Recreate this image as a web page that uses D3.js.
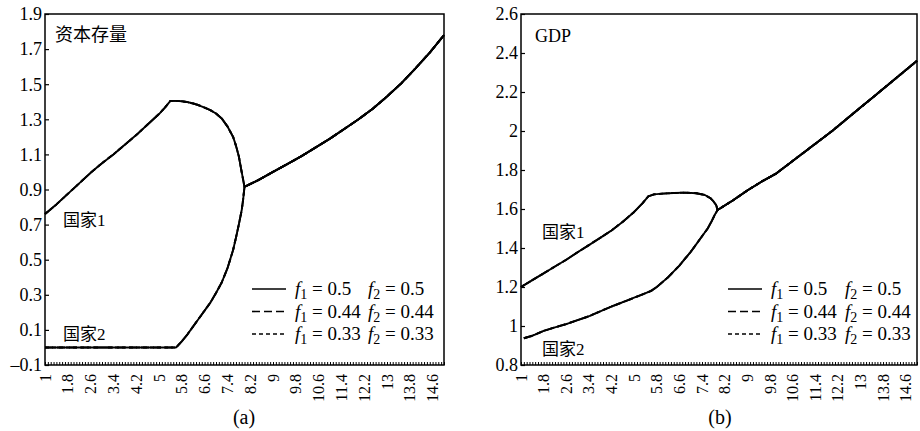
<!DOCTYPE html>
<html><head><meta charset="utf-8">
<script src="https://cdn.jsdelivr.net/npm/d3@7"></script>
<style>
body{margin:0;background:#fff;}
svg{display:block;}
text{font-family:"Liberation Serif","Times New Roman","Noto Sans CJK SC",serif;fill:#000;}
</style></head>
<body>
<svg id="chart" width="920" height="431"></svg>
<script>
// ---------- data ----------
const xTickLabels = ["1","1.8","2.6","3.4","4.2","5","5.8","6.6","7.4","8.2","9","9.8","10.6","11.4","12.2","13","13.8","14.6"];
const yTicksA = [-0.1,0.1,0.3,0.5,0.7,0.9,1.1,1.3,1.5,1.7,1.9];
const yTicksB = [0.8,1,1.2,1.4,1.6,1.8,2,2.2,2.4,2.6];
const legendF1 = ["0.5","0.44","0.33"];
const legendF2 = ["0.5","0.44","0.33"];
const panelTitles = ["资本存量","GDP"];
const countryNames = ["国家1","国家2"];
const captions = ["(a)","(b)"];

// (a) capital stock, country 1
const kT1 = [1,1.4,1.8,2.2,2.6,3.0,3.4,3.8,4.2,4.6,5.0,5.2,5.4,5.6,5.8,6.0,6.2,6.4,6.6,6.8,7.0,7.2,7.4,7.6,7.7,7.8,7.9,8.0,8.5,9,9.5,10,10.5,11,11.5,12,12.5,13,13.5,14,14.5,15];
const kV1 = [0.76,0.815,0.875,0.935,0.995,1.05,1.10,1.155,1.21,1.27,1.33,1.365,1.405,1.405,1.403,1.398,1.39,1.38,1.367,1.352,1.333,1.305,1.26,1.20,1.15,1.09,1.0,0.915,0.955,1.0,1.045,1.09,1.14,1.19,1.245,1.30,1.36,1.43,1.505,1.59,1.68,1.78];
// (a) capital stock, country 2
const kT2 = [1,5.6,5.8,6.0,6.2,6.4,6.6,6.8,7.0,7.2,7.4,7.6,7.7,7.8,7.9,7.95,8.0,8.5,9,9.5,10,10.5,11,11.5,12,12.5,13,13.5,14,14.5,15];
const kV2 = [0,0,0.035,0.075,0.12,0.165,0.21,0.255,0.31,0.37,0.45,0.555,0.625,0.70,0.78,0.84,0.915,0.955,1.0,1.045,1.09,1.14,1.19,1.245,1.30,1.36,1.43,1.505,1.59,1.68,1.78];
// (b) GDP, country 1
const gT1 = [1,1.4,1.8,2.2,2.6,3.0,3.4,3.8,4.2,4.6,5.0,5.3,5.5,5.7,6.0,6.4,6.8,7.2,7.5,7.7,7.8,7.9,7.95,8.5,9,9.5,10,10.5,11,11.5,12,12.5,13,13.5,14,14.5,15];
const gV1 = [1.2,1.235,1.27,1.305,1.34,1.378,1.415,1.452,1.49,1.535,1.585,1.63,1.665,1.675,1.679,1.682,1.684,1.681,1.672,1.655,1.64,1.62,1.595,1.645,1.695,1.74,1.78,1.835,1.89,1.945,2.0,2.06,2.12,2.18,2.24,2.30,2.36];
// (b) GDP, country 2
const gT2 = [1.1,1.4,1.8,2.2,2.6,3.0,3.4,3.8,4.2,4.6,5.0,5.3,5.6,5.8,6.0,6.2,6.4,6.6,6.8,7.0,7.2,7.4,7.6,7.75,7.85,7.95,8.5,9,9.5,10,10.5,11,11.5,12,12.5,13,13.5,14,14.5,15];
const gV2 = [0.937,0.95,0.975,0.993,1.01,1.03,1.05,1.075,1.10,1.122,1.145,1.162,1.18,1.20,1.225,1.25,1.28,1.31,1.345,1.38,1.42,1.46,1.50,1.54,1.57,1.595,1.645,1.695,1.74,1.78,1.835,1.89,1.945,2.0,2.06,2.12,2.18,2.24,2.30,2.36];

// ---------- drawing ----------
const svg = d3.select("#chart");
const dashes = [null,"8,4","4,3"];
const fmt = d => String(+d.toFixed(1)).replace("-","\u2013");

const panels = [
  {x0:45,x1:444,yDom:[-0.1,1.9],yTicks:yTicksA,series:[[kT1,kV1],[kT2,kV2]],
   title:{x:55,y:41}, names:[{x:63,y:226},{x:63,y:340}], legend:{x:252,y:289,tx:295,tx2:368}, cap:244},
  {x0:521,x1:917,yDom:[0.8,2.6],yTicks:yTicksB,series:[[gT1,gV1],[gT2,gV2]],
   title:{x:535,y:42}, names:[{x:542,y:238},{x:542,y:355}], legend:{x:728,y:289,tx:771,tx2:845}, cap:720}
];
const yTop=14, yBot=365;

panels.forEach((p,pi)=>{
  const x = d3.scaleLinear().domain([1,15]).range([p.x0,p.x1]);
  const y = d3.scaleLinear().domain(p.yDom).range([yBot,yTop]);
  const g = svg.append("g");

  // y axis (inward ticks)
  const ya = g.append("g").attr("transform",`translate(${p.x0},0)`)
    .call(d3.axisRight(y).tickValues(p.yTicks).tickSize(4).tickFormat(""));
  ya.select(".domain").remove();
  ya.selectAll("line").attr("stroke","#000").attr("stroke-width",1.2);
  g.selectAll(".ylab").data(p.yTicks).join("text")
    .attr("x",p.x0-3).attr("y",d=>y(d)).attr("dy","0.35em")
    .attr("text-anchor","end").attr("font-size",18).text(fmt);

  // x axis minor ticks (inward)
  const minor = d3.range(10,151).map(d=>d/10);
  const xa = g.append("g").attr("transform",`translate(0,${yBot})`)
    .call(d3.axisTop(x).tickValues(minor).tickSize(3).tickFormat(""));
  xa.select(".domain").remove();
  xa.selectAll("line").attr("stroke","#000").attr("stroke-width",1);
  g.selectAll(".xlab").data(xTickLabels).join("text")
    .attr("transform",d=>`translate(${x(+d)},${yBot+9}) rotate(-90)`)
    .attr("text-anchor","end").attr("dy","0.35em").attr("font-size",16).text(d=>d);

  // frame
  g.append("rect").attr("x",p.x0).attr("y",yTop).attr("width",p.x1-p.x0).attr("height",yBot-yTop)
    .attr("fill","none").attr("stroke","#000").attr("stroke-width",1.5);

  // lines
  const line = d3.line().x(d=>x(d[0])).y(d=>y(d[1]));
  dashes.slice().reverse().forEach(ds=>{
    p.series.forEach(([ts,vs])=>{
      g.append("path").datum(ts.map((t,i)=>[t,vs[i]]))
        .attr("d",line).attr("fill","none").attr("stroke","#000").attr("stroke-width",1.9)
        .attr("stroke-linejoin","round").attr("stroke-dasharray",ds);
    });
  });

  // labels
  g.append("text").attr("x",p.title.x).attr("y",p.title.y).attr("font-size",18).text(panelTitles[pi]);
  countryNames.forEach((n,i)=>{
    g.append("text").attr("x",p.names[i].x).attr("y",p.names[i].y).attr("font-size",17).text(n);
  });

  // legend
  legendF1.forEach((v,i)=>{
    const ly = p.legend.y + i*22.5;
    g.append("line").attr("x1",p.legend.x).attr("x2",p.legend.x+34).attr("y1",ly).attr("y2",ly)
      .attr("stroke","#000").attr("stroke-width",1.6).attr("stroke-dasharray",dashes[i]);
    [[p.legend.tx,"1",v],[p.legend.tx2,"2",legendF2[i]]].forEach(([tx,sub,val])=>{
      const t = g.append("text").attr("x",tx).attr("y",ly+6).attr("font-size",19);
      t.append("tspan").attr("font-style","italic").text("f");
      t.append("tspan").attr("font-size",14).attr("dy",4).text(sub);
      t.append("tspan").attr("dy",-4).text(" = "+val);
    });
  });

  svg.append("text").attr("x",p.cap).attr("y",424).attr("text-anchor","middle").attr("font-size",20).text(captions[pi]);
});
</script>
</body></html>
